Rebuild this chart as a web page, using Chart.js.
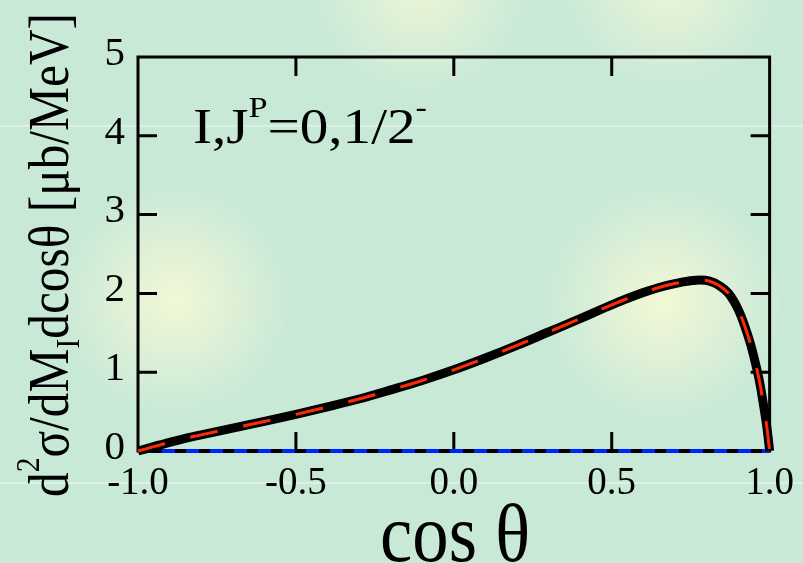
<!DOCTYPE html>
<html>
<head>
<meta charset="utf-8">
<script src="https://cdn.jsdelivr.net/npm/chart.js@4.4.1/dist/chart.umd.min.js"></script>
<style>
  html, body { margin: 0; padding: 0; }
  body {
    width: 803px; height: 563px; overflow: hidden;
    background:
      linear-gradient(to bottom, transparent 125px, rgba(255,255,255,0.35) 125px, rgba(255,255,255,0.35) 127px, transparent 127px),
      linear-gradient(to bottom, transparent 482px, rgba(255,255,255,0.35) 482px, rgba(255,255,255,0.35) 484px, transparent 484px),
      radial-gradient(circle at 175px 300px, rgba(242,248,214,1) 0, rgba(242,248,214,0) 115px),
      radial-gradient(circle at 663px 303px, rgba(242,248,214,1) 0, rgba(242,248,214,0) 120px),
      radial-gradient(circle at 420px -15px, rgba(236,246,214,1) 0, rgba(236,246,214,0) 110px),
      radial-gradient(circle at 670px -20px, rgba(236,246,214,1) 0, rgba(236,246,214,0) 110px),
      #c9e9d7;
  }
  canvas { display: block; }
</style>
</head>
<body>
<canvas id="xsChart" width="803" height="563"></canvas>
<script>
// 曲线数据：cosθ 与对应的截面值
const cosTheta = [-1.0, -0.95, -0.9, -0.85, -0.8, -0.7, -0.6, -0.5, -0.4, -0.3, -0.2, -0.1,
                  0.0, 0.1, 0.2, 0.3, 0.4, 0.5, 0.6, 0.65, 0.7, 0.75, 0.78, 0.81, 0.84, 0.87,
                  0.9, 0.92, 0.94, 0.96, 0.97, 0.98, 0.99, 0.995, 1.0];
const crossSection = [0, 0.055, 0.11, 0.16, 0.205, 0.29, 0.375, 0.465, 0.56, 0.66, 0.775, 0.895,
                      1.03, 1.18, 1.34, 1.51, 1.68, 1.855, 2.01, 2.075, 2.125, 2.16, 2.17, 2.155, 2.10, 2.0,
                      1.80, 1.6, 1.35, 1.03, 0.84, 0.6, 0.34, 0.18, 0];
// 零线（蓝色虚线）
const zeroX = [-1.0, 1.0];
const zeroY = [0, 0];
// 刻度
const xTicks = [-1.0, -0.5, 0.0, 0.5, 1.0];
const yTicks = [0, 1, 2, 3, 4, 5];

const serif = '"Liberation Serif", "DejaVu Serif", serif';
const toPoints = (xs, ys) => xs.map((x, i) => ({ x: x, y: ys[i] }));

// 画带上下标的文字
function richWidth(ctx, parts, size) {
    let w = 0;
    parts.forEach(p => {
        const s = (p.sup || p.sub) ? size * 0.6 : size;
        ctx.font = s + 'px ' + serif;
        w += ctx.measureText(p.t).width;
    });
    return w;
}
function drawRich(ctx, parts, size) {
    let x = 0;
    parts.forEach(p => {
        const s = (p.sup || p.sub) ? size * 0.6 : size;
        ctx.font = s + 'px ' + serif;
        let dy = 0;
        if (p.sup) dy = -size * 0.52;
        if (p.sub) dy = size * 0.2;
        ctx.fillText(p.t, x, dy);
        x += ctx.measureText(p.t).width;
    });
}

// 边框、向内的刻度线（先画，让曲线和零线盖在上面）
const framePlugin = {
    id: 'frame',
    beforeDatasetsDraw(chart) {
        const ctx = chart.ctx;
        const a = chart.chartArea;
        const xs = chart.scales.x, ys = chart.scales.y;
        ctx.save();
        ctx.strokeStyle = '#000';
        ctx.lineWidth = 3;
        ctx.strokeRect(a.left, a.top, a.right - a.left, a.bottom - a.top);
        const tl = 19;
        ctx.beginPath();
        xTicks.slice(1, -1).forEach(v => {
            const px = xs.getPixelForValue(v);
            ctx.moveTo(px, a.bottom); ctx.lineTo(px, a.bottom - tl);
            ctx.moveTo(px, a.top); ctx.lineTo(px, a.top + tl);
        });
        yTicks.slice(1, -1).forEach(v => {
            const py = ys.getPixelForValue(v);
            ctx.moveTo(a.left, py); ctx.lineTo(a.left + tl, py);
            ctx.moveTo(a.right, py); ctx.lineTo(a.right - tl, py);
        });
        ctx.stroke();
        ctx.restore();
    },
    afterDatasetsDraw(chart) {
        const ctx = chart.ctx;
        ctx.save();
        ctx.fillStyle = '#000';
        ctx.textBaseline = 'alphabetic';
        ctx.textAlign = 'left';

        // 图中标注
        const note = [{ t: 'I,J' }, { t: 'P', sup: true }, { t: '=0,1/2' }, { t: '-', sup: true }];
        let w = richWidth(ctx, note, 50);
        ctx.save();
        ctx.translate(193, 143);
        ctx.scale(234 / w, 1);
        drawRich(ctx, note, 50);
        ctx.restore();

        // x 轴标题
        const xt = [{ t: 'cos θ' }];
        w = richWidth(ctx, xt, 82);
        ctx.save();
        ctx.translate(380, 561);
        ctx.scale(150 / w, 1);
        drawRich(ctx, xt, 82);
        ctx.restore();

        // y 轴标题（旋转）
        const yt = [{ t: 'd' }, { t: '2', sup: true }, { t: 'σ/dM' }, { t: 'I', sub: true },
                    { t: 'dcosθ [μb/MeV]' }];
        w = richWidth(ctx, yt, 56);
        ctx.save();
        ctx.translate(68, 497);
        ctx.rotate(-Math.PI / 2);
        ctx.scale(484 / w, 1);
        drawRich(ctx, yt, 56);
        ctx.restore();

        ctx.restore();
    }
};

const chart = new Chart(document.getElementById('xsChart'), {
    type: 'line',
    data: {
        datasets: [
            {
                data: toPoints(cosTheta, crossSection),
                borderColor: '#ff2a00',
                borderWidth: 3,
                borderDash: [28, 26],
                order: 0
            },
            {
                data: toPoints(cosTheta, crossSection),
                borderColor: '#000',
                borderWidth: 9,
                order: 1
            },
            {
                data: toPoints(zeroX, zeroY),
                borderColor: '#0022ff',
                borderWidth: 4,
                borderDash: [13, 11],
                order: 2
            },
            {
                data: toPoints(zeroX, zeroY),
                borderColor: '#000',
                borderWidth: 4,
                order: 3
            }
        ]
    },
    options: {
        responsive: false,
        animation: false,
        devicePixelRatio: 1,
        layout: { padding: { top: 57, right: 28, bottom: 0, left: 0 } },
        elements: {
            point: { radius: 0 },
            line: { cubicInterpolationMode: 'monotone', borderCapStyle: 'butt', fill: false }
        },
        datasets: { line: { clip: 6 } },
        plugins: { legend: { display: false }, tooltip: { enabled: false } },
        scales: {
            x: {
                type: 'linear',
                min: -1, max: 1,
                grid: { display: false, drawTicks: false },
                border: { display: false },
                afterFit: s => { s.height = 112; },
                afterBuildTicks: s => { s.ticks = xTicks.map(v => ({ value: v })); },
                ticks: {
                    color: '#000',
                    font: { family: serif, size: 39 },
                    padding: 9,
                    maxRotation: 0,
                    callback: v => v.toFixed(1)
                }
            },
            y: {
                min: 0, max: 5,
                grid: { display: false, drawTicks: false },
                border: { display: false },
                afterFit: s => { s.width = 138; },
                afterBuildTicks: s => { s.ticks = yTicks.map(v => ({ value: v })); },
                ticks: {
                    color: '#000',
                    font: { family: serif, size: 41 },
                    padding: 13,
                    labelOffset: -3,
                    callback: v => String(v)
                }
            }
        }
    },
    plugins: [framePlugin]
});
</script>
</body>
</html>
